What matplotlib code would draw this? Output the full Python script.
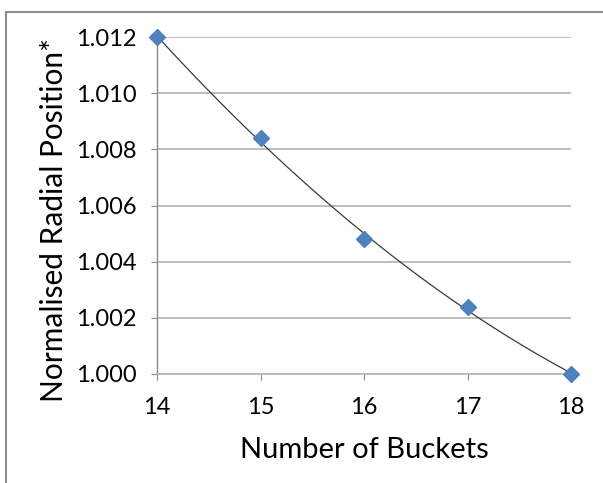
import numpy as np
import matplotlib
matplotlib.use("Agg")
import matplotlib.pyplot as plt
from matplotlib.lines import Line2D

buckets = [14, 15, 16, 17, 18]
radial_pos = [1.0120, 1.0084, 1.0048, 1.0024, 1.0000]
y_ticks = [1.000, 1.002, 1.004, 1.006, 1.008, 1.010, 1.012]
y_tick_labels = ["1.000", "1.002", "1.004", "1.006", "1.008", "1.010", "1.012"]
x_ticks = [14, 15, 16, 17, 18]

plt.rcParams['font.family'] = ['Lato', 'DejaVu Sans']

W, H = 603, 483
fig = plt.figure(figsize=(W / 100, H / 100), dpi=100)
fig.patch.set_facecolor('white')

# outer chart border (left and top visible)
fig.add_artist(Line2D([6 / W, 6 / W], [0, 1 - 12 / H], transform=fig.transFigure,
                      color='#8c8c8c', lw=1.5))
fig.add_artist(Line2D([6 / W, 1], [1 - 12 / H, 1 - 12 / H], transform=fig.transFigure,
                      color='#8c8c8c', lw=1.5))

left, right, top, bottom = 157, 571, 37, 374
ax = fig.add_axes([left / W, 1 - bottom / H, (right - left) / W, (bottom - top) / H])

ax.set_xlim(14, 18)
ax.set_ylim(1.000, 1.012)
ax.set_xticks(x_ticks)
ax.set_yticks(y_ticks)
ax.set_yticklabels(y_tick_labels)

ax.grid(axis='y', color='#b8b8b8', lw=1.3)
ax.set_axisbelow(True)
for s in ['top', 'right']:
    ax.spines[s].set_visible(False)
ax.spines['left'].set_color('#8a8a8a')
ax.spines['bottom'].set_color('#b8b8b8')
ax.spines['left'].set_linewidth(1.0)
ax.spines['bottom'].set_linewidth(1.3)

ax.tick_params(axis='y', length=4, color='#8a8a8a', pad=11, labelsize=17)
ax.tick_params(axis='x', length=4, color='#8a8a8a', pad=12.5, labelsize=17)

# quadratic trendline fitted to the data
coef = np.polyfit(buckets, radial_pos, 2)
xs = np.linspace(min(buckets), max(buckets), 200)
ax.plot(xs, np.polyval(coef, xs), color='#3a3a3a', lw=0.9, zorder=3)

ax.plot(buckets, radial_pos, linestyle='none', marker='D', ms=8.5,
        color='#4f81bd', mec='#4f81bd', clip_on=False, zorder=4)

ax.set_xlabel("Number of Buckets", fontsize=21, labelpad=14)
ax.set_ylabel("Normalised Radial Position*", fontsize=21.5)
ax.yaxis.set_label_coords((68 - left) / (right - left), (bottom - 220) / (bottom - top))

fig.savefig("out.png", dpi=100)
